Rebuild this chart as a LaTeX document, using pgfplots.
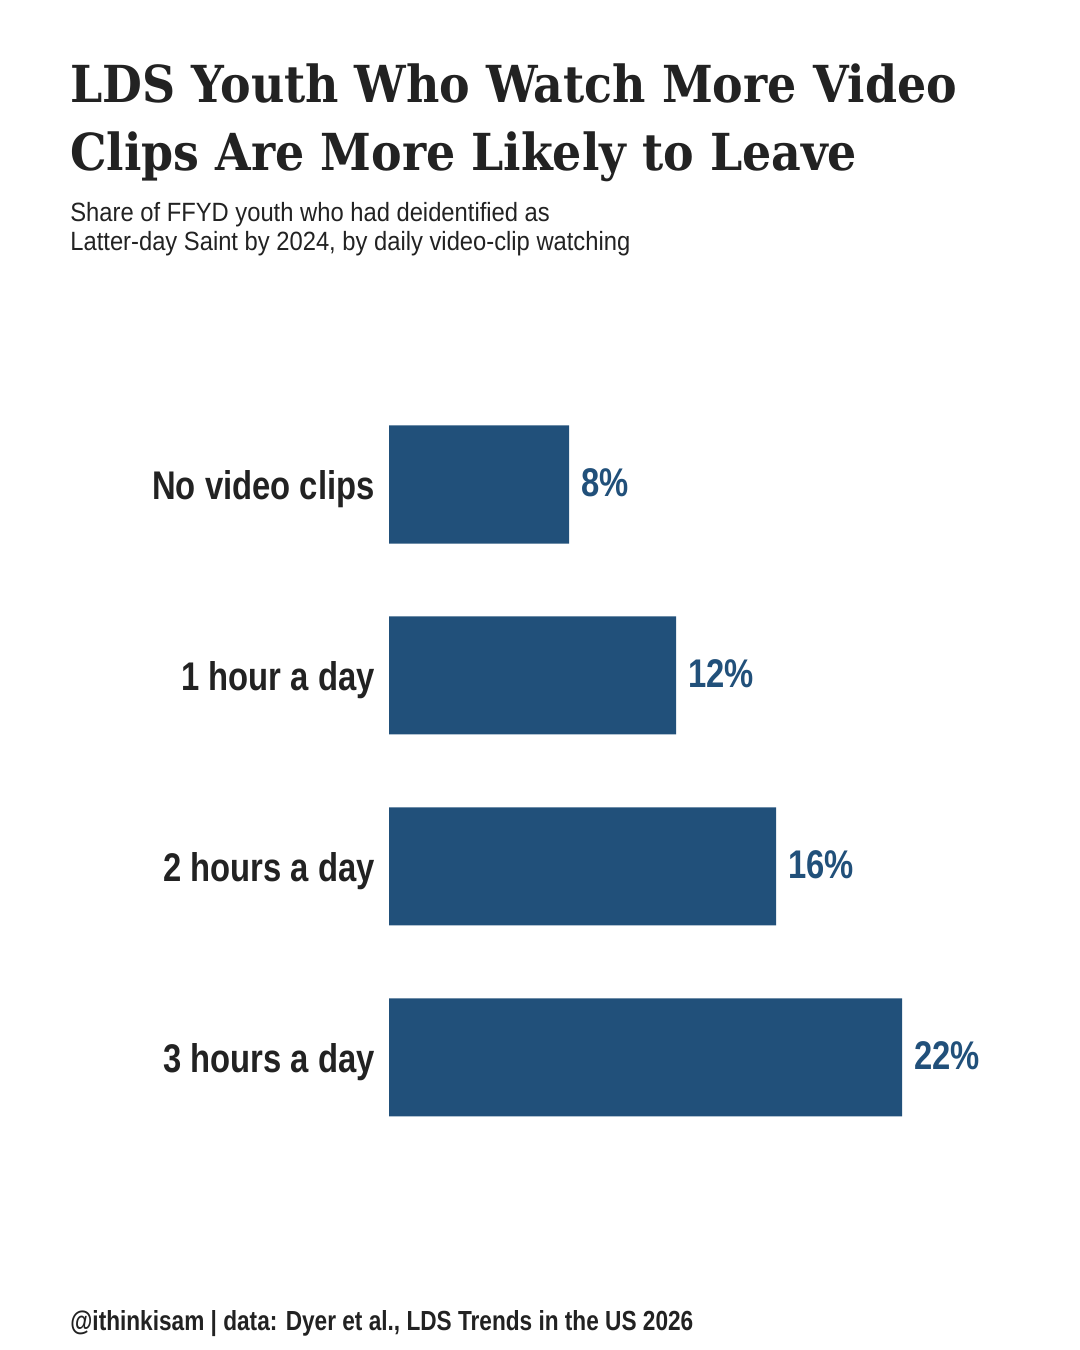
\documentclass[border=0pt]{standalone}
\usepackage{fontspec}
\setmainfont{Liberation Sans}[FakeStretch=0.82]
\newfontfamily\subfont{Liberation Sans}[FakeStretch=0.9]
\newfontfamily\titlefont{DejaVu Serif}[FakeStretch=0.9]
\usepackage{pgfplots}
\pgfplotsset{compat=1.18}
\definecolor{barblue}{HTML}{21507A}
\definecolor{ink}{HTML}{222222}
\begin{document}
\begin{tikzpicture}[x=1pt,y=1pt]
% page: 1080x1350 px at 0.5pt per px
\fill[white] (0,0) rectangle (540,675);
\useasboundingbox (0,0) rectangle (540,675);
\node[anchor=base west, inner sep=0pt, text=ink, font=\titlefont\bfseries\fontsize{25.5}{30}\selectfont] at (35,623.5) {LDS Youth Who Watch More Video};
\node[anchor=base west, inner sep=0pt, text=ink, font=\titlefont\bfseries\fontsize{25.5}{30}\selectfont] at (35,589.5) {Clips Are More Likely to Leave};
\node[anchor=base west, inner sep=0pt, text=ink, font=\subfont\fontsize{13.2}{15}\selectfont] at (35,564) {Share of FFYD youth who had deidentified as};
\node[anchor=base west, inner sep=0pt, text=ink, font=\subfont\fontsize{13.2}{15}\selectfont] at (35,549.5) {Latter-day Saint by 2024, by daily video-clip watching};
\node[anchor=base west, inner sep=0pt, text=ink, font=\bfseries\fontsize{13.8}{16}\selectfont] at (35,9.5) {@ithinkisam | data: Dyer et al., LDS Trends in the US 2026};
\begin{axis}[
    at={(194.5pt,480.5pt)}, anchor=north west,
    scale only axis, width=291.5pt, height=382pt,
    xbar, bar width=59pt,
    xmin=0, xmax=25, ymin=-0.5, ymax=3.5, y dir=reverse,
    axis line style={draw=none}, major tick length=0pt,
    xtick=\empty, ytick={0,1,2,3},
    yticklabels={No video clips,1 hour a day,2 hours a day,3 hours a day},
    yticklabel style={font=\bfseries\fontsize{20}{24}\selectfont, text=ink, inner sep=0pt, xshift=-7pt, yshift=-2.5pt},
    clip=false,
    point meta=explicit symbolic,
    nodes near coords,
    nodes near coords style={anchor=west, inner sep=0pt, xshift=6pt, yshift=1pt, text=barblue, font=\bfseries\fontsize{20}{24}\selectfont},
]
\addplot[fill=barblue, draw=none] coordinates {
    (7.72,0) [8\%]
    (12.31,1) [12\%]
    (16.6,2) [16\%]
    (22.0,3) [22\%]
};
\end{axis}
\end{tikzpicture}
\end{document}
